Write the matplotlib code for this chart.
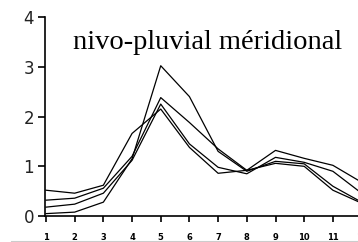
import matplotlib
matplotlib.use("Agg")
import matplotlib.pyplot as plt
from matplotlib.lines import Line2D

months = [1, 2, 3, 4, 5, 6, 7, 8, 9, 10, 11, 12]
series_a = [0.05, 0.08, 0.28, 1.15, 3.02, 2.40, 1.30, 0.90, 1.10, 1.05, 0.60, 0.28]
series_b = [0.32, 0.36, 0.56, 1.20, 2.38, 1.88, 1.35, 0.92, 1.32, 1.16, 1.02, 0.68]
series_c = [0.18, 0.24, 0.46, 1.12, 2.25, 1.45, 0.98, 0.85, 1.18, 1.08, 0.90, 0.46]
series_d = [0.52, 0.46, 0.62, 1.66, 2.15, 1.38, 0.86, 0.92, 1.06, 1.00, 0.52, 0.26]
y_ticks = [0, 1, 2, 3, 4]
title = "nivo-pluvial méridional"

fig = plt.figure(figsize=(3.58, 2.42), dpi=100)
ax = fig.add_axes([0.126, 0.107, 0.884, 0.823])
for s in (series_a, series_b, series_c, series_d):
    ax.plot(months, s, color="black", lw=0.9)

ax.set_xlim(0.97, 12.0)
ax.set_ylim(0, 4)
ax.set_xticks(months)
ax.set_xticklabels([str(m) for m in months], fontsize=6, fontweight="bold",
                   family="DejaVu Sans")
ax.set_yticks(y_ticks)
ax.set_yticklabels([str(t) for t in y_ticks], fontsize=12, family="DejaVu Sans",
                   color="#222222")
ax.tick_params(axis="x", direction="out", length=4, width=1.2, pad=8)
ax.tick_params(axis="y", direction="out", length=5, width=1.2, pad=3)
for side in ("top", "right"):
    ax.spines[side].set_visible(False)
ax.spines["left"].set_linewidth(1.2)
ax.spines["bottom"].set_linewidth(1.2)
ax.text(0.513, 0.871, title, transform=ax.transAxes, ha="center", va="center",
        fontsize=20.5, family="Liberation Serif")
fig.add_artist(Line2D([0.03, 1.0], [0.004, 0.004], color="#cccccc", lw=0.8,
                      transform=fig.transFigure))
fig.savefig("out.png", dpi=100)
